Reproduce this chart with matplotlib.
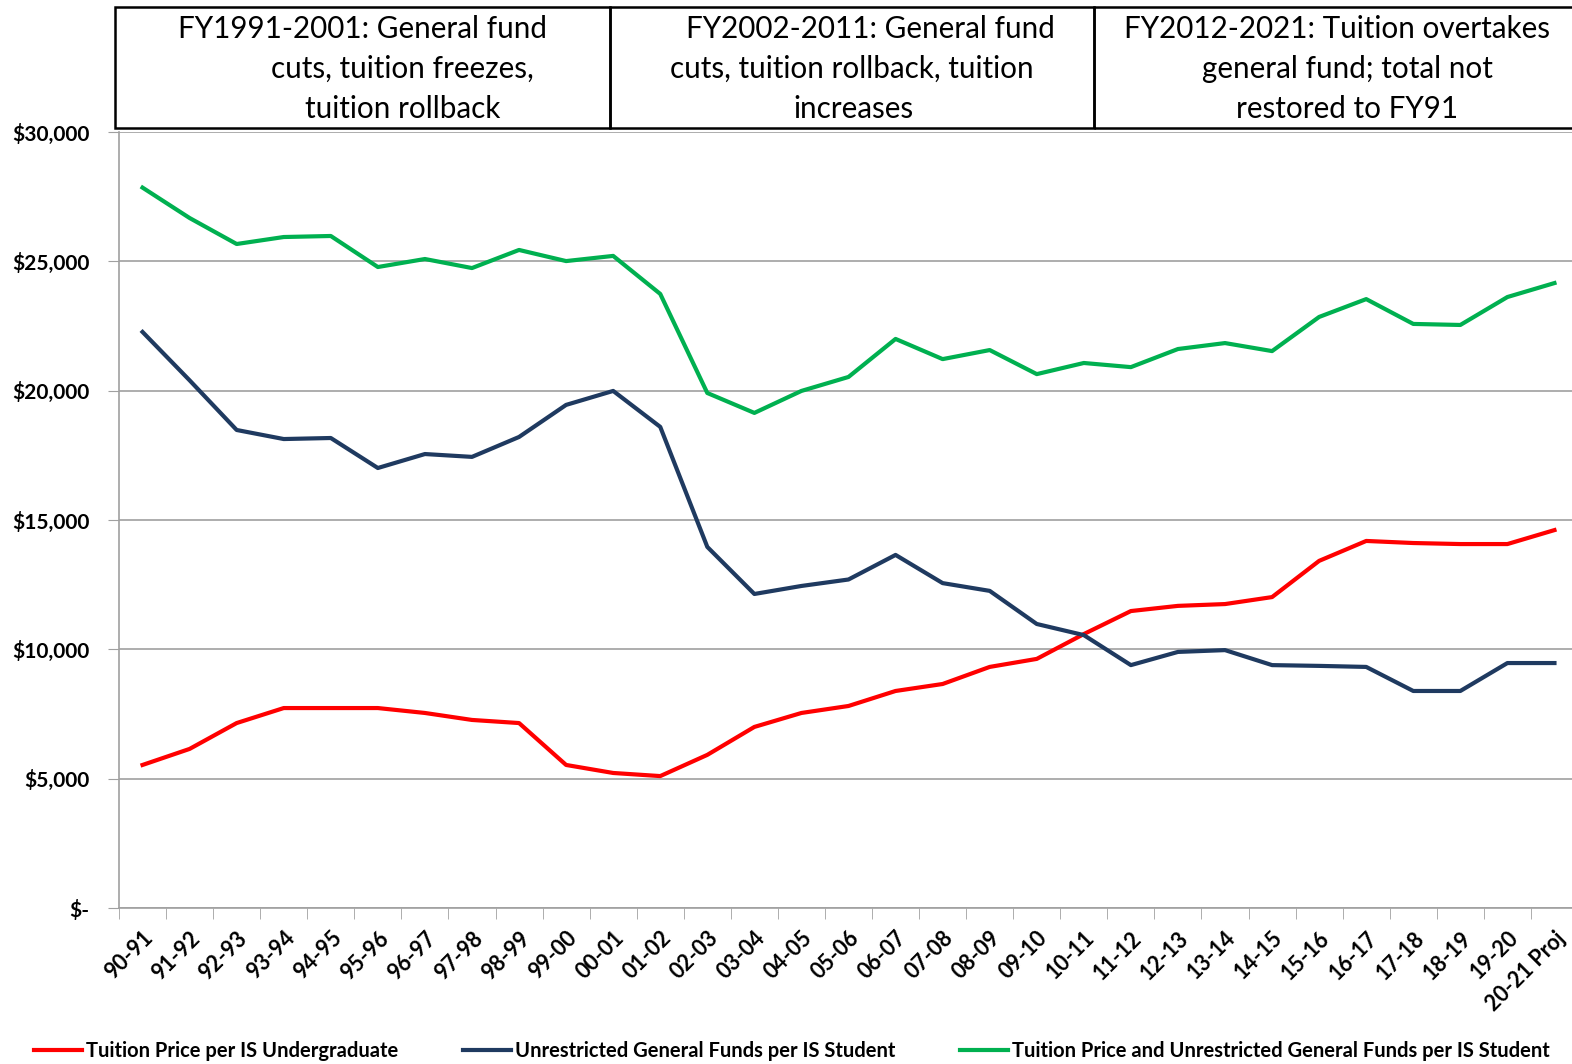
import matplotlib
matplotlib.use("Agg")
import matplotlib.pyplot as plt
from matplotlib.patches import Rectangle
from matplotlib.ticker import FuncFormatter, FixedLocator
from matplotlib.transforms import ScaledTranslation

plt.rcParams['font.family'] = ['Lato', 'DejaVu Sans']

# Datos
anios = ['90-91', '91-92', '92-93', '93-94', '94-95', '95-96', '96-97', '97-98',
         '98-99', '99-00', '00-01', '01-02', '02-03', '03-04', '04-05', '05-06',
         '06-07', '07-08', '08-09', '09-10', '10-11', '11-12', '12-13', '13-14',
         '14-15', '15-16', '16-17', '17-18', '18-19', '19-20', '20-21 Proj']

matricula = [5530, 6150, 7150, 7730, 7730, 7730, 7540, 7270, 7150, 5530, 5220,
             5100, 5920, 7000, 7540, 7810, 8390, 8660, 9320, 9630, 10590, 11480,
             11680, 11750, 12020, 13420, 14190, 14110, 14070, 14070, 14610]

fondo_general = [22270, 20400, 18480, 18130, 18170, 17010, 17550, 17440, 18210,
                 19450, 19990, 18600, 13960, 12140, 12450, 12700, 13650, 12560,
                 12260, 10980, 10550, 9390, 9900, 9970, 9390, 9360, 9320, 8390,
                 8390, 9470, 9470]

total = [27850, 26675, 25670, 25940, 25980, 24780, 25090, 24740, 25440, 25010,
         25210, 23740, 19910, 19140, 19990, 20530, 22000, 21220, 21570, 20640,
         21070, 20910, 21610, 21840, 21530, 22850, 23540, 22580, 22540, 23620,
         24160]

etiquetas = ["Tuition Price per IS Undergraduate",
             "Unrestricted General Funds per IS Student",
             "Tuition Price and Unrestricted General Funds per IS Student"]

periodos = [["FY1991-2001: General fund", "cuts, tuition freezes,", "tuition rollback"],
            ["FY2002-2011: General fund", "cuts, tuition rollback, tuition", "increases"],
            ["FY2012-2021: Tuition overtakes", "general fund; total not", "restored to FY91"]]

W, H = 1572, 1064
fig = plt.figure(figsize=(W / 100, H / 100), dpi=100)
ax = fig.add_axes([119 / W, 1 - 908 / H, (1578 - 119) / W, (908 - 132) / H])

x = range(len(anios))
ax.plot(x, matricula, color='#FF0000', lw=3, label=etiquetas[0])
ax.plot(x, fondo_general, color='#1F3A60', lw=3, label=etiquetas[1])
ax.plot(x, total, color='#00B050', lw=3, label=etiquetas[2])

ax.set_xlim(-0.5, len(anios) - 0.5)
ax.set_ylim(0, 30000)
ax.set_yticks(range(0, 30001, 5000))
ax.yaxis.set_major_formatter(FuncFormatter(lambda v, p: '$-' if v == 0 else '${:,.0f}'.format(v)))
ax.grid(axis='y', color='#A0A0A0', lw=1.2)
ax.set_axisbelow(True)

ax.set_xticks(list(x))
ax.set_xticklabels(anios, rotation=45, ha='right', va='top', rotation_mode='anchor',
                   fontsize=15.5, fontweight='bold')
desplaza = ScaledTranslation(10 / 100, 0, fig.dpi_scale_trans)
for t in ax.get_xticklabels():
    t.set_transform(t.get_transform() + desplaza)
ax.xaxis.set_minor_locator(FixedLocator([i - 0.5 for i in range(len(anios) + 1)]))
ax.tick_params(axis='x', which='major', length=0, pad=14)
ax.tick_params(axis='x', which='minor', length=8, color='#A0A0A0')
ax.tick_params(axis='y', length=8, color='#A0A0A0', pad=13, labelsize=15)
for t in ax.get_yticklabels():
    t.set_fontweight('bold')

for lado in ['top', 'right']:
    ax.spines[lado].set_visible(False)
for lado in ['left', 'bottom']:
    ax.spines[lado].set_color('#A0A0A0')
    ax.spines[lado].set_linewidth(1.2)

# Cuadros de texto superiores
bordes = [115, 610, 1094, 1600]
centros = [[363, 402, 403], [870, 852, 853], [1337, 1347, 1347]]
for k in range(3):
    fig.add_artist(Rectangle((bordes[k] / W, 1 - 128 / H), (bordes[k + 1] - bordes[k]) / W,
                             121 / H, transform=fig.transFigure, fill=False,
                             edgecolor='black', lw=1.8))
    for j, linea in enumerate(periodos[k]):
        fig.text(centros[k][j] / W, 1 - (29 + 40 * j) / H, linea, ha='center',
                 va='center', fontsize=21.3)

fig.legend(loc='center', bbox_to_anchor=(792 / W, 1 - 1051 / H), ncol=3,
           frameon=False, prop={'weight': 'bold', 'size': 14.5},
           handlelength=2.4, columnspacing=3.2, handletextpad=0.2)

plt.savefig("out.png", dpi=100)
